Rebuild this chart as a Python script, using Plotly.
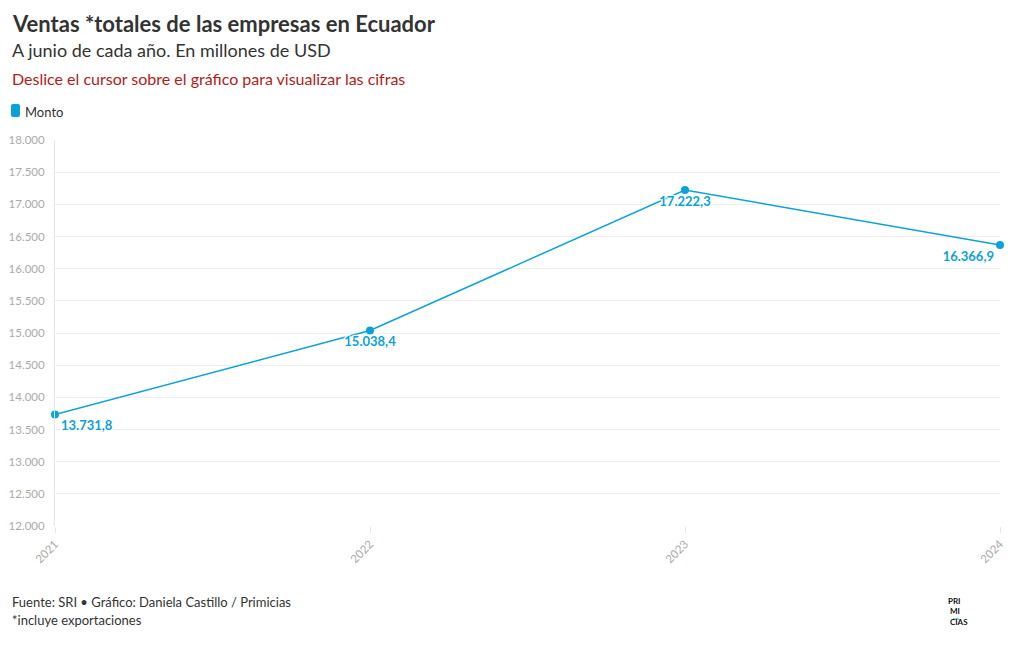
import plotly.graph_objects as go

years = [2021, 2022, 2023, 2024]
monto = [13731.8, 15038.4, 17222.3, 16366.9]
label_positions = ["bottom right", "bottom center", "bottom center", "bottom left"]
y_ticks = [12000, 12500, 13000, 13500, 14000, 14500, 15000, 15500, 16000, 16500, 17000, 17500, 18000]
series_name = "Monto"

BLUE = "#0aa2d8"
FONT = "Lato"
shadow = "1px 1px 1px #fff, -1px -1px 1px #fff, 1px -1px 1px #fff, -1px 1px 1px #fff"

OFF = 8  # page body margin
W, H = 1020 - OFF, 650 - OFF
# screen-space plot edges
SL, SR, ST, SB = 55, 1000, 140, 526
ML, MT = SL - OFF, ST - OFF
MR, MB = W - (SR - OFF), H - (SB - OFF)
PW, PH = W - ML - MR, H - MT - MB


def px(x):
    return (x - OFF - ML) / PW


def py(y):
    return (H - MB - (y - OFF)) / PH


fig = go.Figure()
fig.add_trace(go.Scatter(
    x=years, y=monto, mode="lines+markers+text",
    line=dict(color=BLUE, width=1.5),
    marker=dict(color=BLUE, size=8),
    texttemplate="%{y:,.1f}",
    textposition=label_positions,
    textfont=dict(family=FONT, size=13, color=BLUE, weight="bold", shadow=shadow),
    cliponaxis=False, showlegend=False, name=series_name,
    hovertemplate="%{x}: %{y:,.1f}<extra></extra>",
))

fig.update_layout(
    width=W, height=H,
    paper_bgcolor="white", plot_bgcolor="white",
    separators=",.",
    font=dict(family=FONT, color="#333"),
    margin=dict(l=ML, r=MR, t=MT, b=MB, autoexpand=False),
    showlegend=False,
    xaxis=dict(range=[2021, 2024], tickvals=years, tickangle=-45, automargin=False,
               showgrid=False, zeroline=False, showline=False,
               ticks="outside", ticklen=6, tickcolor="#e6e6e6",
               tickfont=dict(size=11.5, color="#aaa", family=FONT)),
    yaxis=dict(range=[12000, 18000], tickvals=y_ticks, tickformat=",d", automargin=False,
               showgrid=True, gridcolor="#eeeeee", zeroline=False,
               showline=True, linecolor="#e6e6e6", ticks="",
               ticklabelstandoff=7,
               tickfont=dict(size=11.5, color="#aaa", family=FONT)),
)

ann = [
    dict(text="<b>Ventas *totales de las empresas en Ecuador</b>", x=10, y=8, size=22, color="#333"),
    dict(text="A junio de cada año. En millones de USD", x=10, y=37, size=18, color="#333"),
    dict(text="Deslice el cursor sobre el gráfico para visualizar las cifras", x=10, y=67, size=16, color="#b31b20"),
    dict(text=series_name, x=23, y=102, size=13, color="#333"),
    dict(text="Fuente: SRI • Gráfico: Daniela Castillo / Primicias", x=10, y=592, size=13, color="#333"),
    dict(text="*incluye exportaciones", x=10, y=610, size=13, color="#333"),
]
for a in ann:
    fig.add_annotation(text=a["text"], xref="paper", yref="paper",
                       x=px(a["x"]), y=py(a["y"]),
                       xanchor="left", yanchor="top", showarrow=False, align="left",
                       font=dict(size=a["size"], color=a["color"], family=FONT))

# legend swatch (rounded square)
x0, x1, y0, y1, r = px(11), px(20), py(104), py(117), 2
rx, ry = r / PW, r / PH
fig.add_shape(type="path", xref="paper", yref="paper", fillcolor=BLUE, line=dict(width=0),
              path=(f"M {x0+rx},{y0} L {x1-rx},{y0} Q {x1},{y0} {x1},{y0-ry} "
                    f"L {x1},{y1+ry} Q {x1},{y1} {x1-rx},{y1} L {x0+rx},{y1} "
                    f"Q {x0},{y1} {x0},{y1+ry} L {x0},{y0-ry} Q {x0},{y0} {x0+rx},{y0} Z"))

# logo
fig.add_annotation(text="<b>PRI<br> MI<br> CIAS</b>", xref="paper", yref="paper",
                   x=px(946), y=py(594),
                   xanchor="left", yanchor="top", showarrow=False, align="left",
                   font=dict(size=8, color="#111", family=FONT))
fig.add_shape(type="line", xref="paper", yref="paper",
              x0=px(953), x1=px(959), y0=py(619), y1=py(619),
              line=dict(color=BLUE, width=1))

fig.write_html("out.html")
